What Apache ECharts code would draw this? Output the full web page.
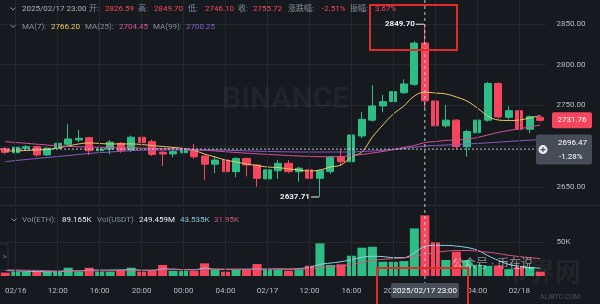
<!DOCTYPE html>
<html><head><meta charset="utf-8">
<script src="https://cdn.jsdelivr.net/npm/echarts@6/dist/echarts.min.js"></script>
<style>html,body{margin:0;padding:0;background:#161a1e}#c{width:600px;height:304px}</style>
</head><body><div id="c"></div>
<script>
const hours = [
'02/16 07:00','02/16 08:00','02/16 09:00','02/16 10:00','02/16 11:00','02/16 12:00','02/16 13:00','02/16 14:00','02/16 15:00','02/16 16:00','02/16 17:00','02/16 18:00','02/16 19:00','02/16 20:00','02/16 21:00','02/16 22:00','02/16 23:00',
'02/17 00:00','02/17 01:00','02/17 02:00','02/17 03:00','02/17 04:00','02/17 05:00','02/17 06:00','02/17 07:00','02/17 08:00','02/17 09:00','02/17 10:00','02/17 11:00','02/17 12:00','02/17 13:00','02/17 14:00','02/17 15:00','02/17 16:00','02/17 17:00','02/17 18:00','02/17 19:00','02/17 20:00','02/17 21:00','02/17 22:00','02/17 23:00',
'02/18 00:00','02/18 01:00','02/18 02:00','02/18 03:00','02/18 04:00','02/18 05:00','02/18 06:00','02/18 07:00','02/18 08:00','02/18 09:00','02/18 10:00'];
const xTickLabels = {'02/16 08:00':'02/16','02/16 12:00':'12:00','02/16 16:00':'16:00','02/16 20:00':'20:00','02/17 00:00':'00:00','02/17 04:00':'04:00','02/17 08:00':'02/17','02/17 12:00':'12:00','02/17 16:00':'16:00','02/17 20:00':'20:00','02/18 00:00':'00:00','02/18 04:00':'04:00','02/18 08:00':'02/18'};
const priceTicks = [2650, 2700, 2750, 2800, 2850];
const volumeTicks = [50];

const opens = [2697,2692,2697.5,2699.4,2689.3,2697.5,2702.4,2707.7,2710.5,2694.5,2696.5,2703.6,2695.5,2711,2705.6,2692.6,2690.5,2692,2696.3,2688,2678,2683,2668.8,2685,2677,2660,2670,2679,2668.8,2671,2660.7,2668.8,2686.4,2681,2712.6,2732,2749.4,2754.7,2765.7,2776,2826.59,2755.5,2725,2732,2699.4,2716.6,2732,2777,2735.5,2743.6,2720.8,2735.5];
const closes = [2692.5,2698.7,2699.4,2689.3,2697.5,2703.6,2708.9,2709.7,2694.5,2696.6,2705,2694.5,2711,2704.4,2690,2690.5,2693.4,2696.3,2687,2678,2683,2668.8,2685,2677,2660.7,2671,2679,2668.8,2673,2660.7,2670,2686.4,2681,2713.8,2733,2749.4,2754.7,2767,2776.4,2826.5,2755.72,2725,2732,2699.4,2718,2732,2777,2736,2743.6,2720.8,2736.3,2731.76];
const lows = [2690,2689.3,2696,2687,2688,2696.5,2700.5,2705,2689,2691,2690,2692,2693,2702,2688,2675.8,2686.5,2689.5,2684.5,2658.6,2667,2666,2662,2663,2650.4,2656,2660,2667,2656.5,2659,2637.71,2666,2676,2679,2710,2730,2741.7,2753,2764,2774,2746.1,2722,2723,2697,2687.2,2715,2730,2734,2733,2716,2716,2730];
const highs = [2699,2703.6,2701.5,2700.5,2699,2705.5,2727.3,2720,2711.5,2700.5,2707.5,2705,2713,2712,2708,2694.5,2695,2699,2702.8,2689,2688,2684.5,2686.5,2686,2678,2673,2683,2683,2675,2672,2671.5,2688,2695.4,2717,2742,2775,2763,2779,2782,2829,2849.7,2764,2750.6,2733,2720,2744,2779,2778,2749,2756.7,2738,2737.5];
const ma7 = [2694.2,2694.2,2694.8,2695.4,2696.0,2697.9,2700.3,2702.8,2704.0,2703.4,2702.8,2702.8,2702.8,2702.1,2700.9,2699.7,2698.5,2697.2,2694.8,2690.5,2686.8,2683.1,2680.7,2678.2,2676.4,2674.5,2673.9,2672.1,2670.9,2669.6,2670.9,2674.5,2677.0,2686.8,2692.9,2711.3,2726.1,2739.6,2749.4,2761.7,2766.2,2765.3,2764.1,2760.4,2755.5,2746.9,2737.1,2732.2,2731.6,2732.2,2734.7,2737.7];
const ma25 = [2705.6,2704.6,2703.6,2702.5,2701.5,2700.6,2699.8,2699.3,2699.0,2698.6,2698.3,2698.1,2697.9,2697.6,2697.4,2697.1,2696.9,2696.6,2696.0,2695.1,2694.2,2693.2,2692.3,2691.5,2690.7,2690.0,2689.3,2688.6,2688.0,2687.5,2687.2,2687.2,2687.4,2688.4,2689.9,2691.7,2693.6,2696.0,2698.5,2700.9,2704.45,2705.8,2707.1,2707.7,2708.5,2710.7,2713.8,2716.9,2719.3,2721.4,2723.6,2726.1];
const ma99 = [2681.0,2682.5,2683.7,2685.0,2686.2,2687.4,2688.6,2689.9,2691.1,2692.1,2692.9,2693.8,2694.5,2695.1,2695.4,2695.4,2695.4,2695.4,2695.4,2695.4,2695.4,2695.0,2694.7,2694.3,2693.9,2693.6,2693.3,2693.1,2692.9,2692.9,2692.9,2692.9,2692.9,2692.9,2693.6,2694.2,2695.0,2696.0,2697.2,2698.7,2700.25,2700.9,2701.5,2702.1,2702.8,2703.4,2704.2,2705.0,2705.8,2706.7,2707.4,2708.3];
const volumeK = [5,6.4,6.4,6.4,5.9,5.9,12.2,6.4,12.2,6.4,6.4,8.8,12.2,6.4,7.8,16.2,7.4,7.4,7.4,18.6,8.8,6.4,8.8,8.8,17.6,8.8,8.8,7.8,9.8,15.2,48,16.2,17.2,29.8,41.6,43,21,21,22,70,89.165,49.5,23.5,35.7,23.5,16.5,15,15.5,10,13.7,13,6.4];
const volMa5 = [8,7.5,7,6.5,6.3,6.2,7.5,7.5,8.6,8.6,8.7,9,9.2,8.5,8.3,10.2,10.1,9.4,9.3,11.5,10,9.8,10,10,10.1,10.1,10.5,10,11,12.5,17,19,21,24,27.5,29,28.5,27,27,34,43.535,45,45,44,42,38,30,23,17,14.5,12.5,11.5];
const volMa10 = [9,8.8,8.5,8.2,7.8,7.5,7.4,7.3,7.6,7.6,7.8,8,8.4,8.5,8.6,9,9.3,9.2,9,9.9,10,10,9.6,9.8,10,10,10,10.2,10.3,10.5,12.5,13.5,14.5,17,20,23,24.5,25.5,26.5,29,31.95,34.5,36.5,37.5,37.5,36.5,35,33,30.5,28.5,27,25.5];

const focusTime = '02/17 23:00';
const crossPrice = 2696.47;
const lastPrice = 2731.76;

const GREEN = '#2ebd85', RED = '#f6465d';
const FONT = 'Roboto, "Noto Sans CJK SC", sans-serif';
const gridLine = '#23272e';

const candleData = opens.map((o, i) => [o, closes[i], lows[i], highs[i]]);
const volData = volumeK.map((v, i) => ({value: v, itemStyle: {color: closes[i] >= opens[i] ? GREEN : RED}}));
const vGrid = Object.keys(xTickLabels).map(k => ({xAxis: k}));

const chart = echarts.init(document.getElementById('c'), null, {renderer: 'canvas'});
const option = {
  backgroundColor: '#161a1e',
  animation: false,
  grid: [
    {left: 0, right: 54.5, top: 0, height: 205},
    {left: 0, right: 54.5, top: 208, height: 68}
  ],
  xAxis: [
    {type: 'category', data: hours, gridIndex: 0, boundaryGap: true,
     axisLine: {show: false}, axisTick: {show: false}, axisLabel: {show: false}, splitLine: {show: false}},
    {type: 'category', data: hours, gridIndex: 1, boundaryGap: true,
     axisLine: {show: false}, axisTick: {show: false}, splitLine: {show: false},
     axisLabel: {show: true, interval: (i, v) => v in xTickLabels, formatter: v => xTickLabels[v] || '',
       color: '#b7bdc6', fontSize: 8, fontFamily: FONT, margin: 11}}
  ],
  yAxis: [
    {type: 'value', gridIndex: 0, position: 'right', min: 2627.9, max: 2879.4,
     axisLine: {show: false}, axisTick: {show: false, customValues: priceTicks},
     axisLabel: {customValues: priceTicks, formatter: v => v.toFixed(2), color: '#b7bdc6', fontSize: 8, fontFamily: FONT, margin: 11},
     splitLine: {show: true, lineStyle: {color: gridLine, width: 1}}},
    {type: 'value', gridIndex: 1, position: 'right', min: 0, max: 100,
     axisLine: {show: false}, axisTick: {show: false, customValues: volumeTicks},
     axisLabel: {customValues: volumeTicks, formatter: v => v + 'K', color: '#b7bdc6', fontSize: 8, fontFamily: FONT, margin: 11},
     splitLine: {show: true, lineStyle: {color: gridLine, width: 1}}}
  ],
  series: [
    {type: 'line', data: [], xAxisIndex: 0, yAxisIndex: 0, z: 1, silent: true,
     markLine: {silent: true, symbol: 'none', label: {show: false}, lineStyle: {color: gridLine, width: 1, type: 'solid'}, data: vGrid}},
    {type: 'line', data: [], xAxisIndex: 1, yAxisIndex: 1, z: 1, silent: true,
     markLine: {silent: true, symbol: 'none', label: {show: false}, lineStyle: {color: gridLine, width: 1, type: 'solid'}, data: vGrid}},
    {type: 'candlestick', xAxisIndex: 0, yAxisIndex: 0, data: candleData, barWidth: '72%',
     itemStyle: {color: GREEN, color0: RED, borderColor: GREEN, borderColor0: RED, borderWidth: 1}},
    {type: 'line', name: 'MA7', data: ma7, xAxisIndex: 0, yAxisIndex: 0, smooth: 0.4, symbol: 'none', lineStyle: {color: '#eec96a', width: 1}},
    {type: 'line', name: 'MA25', data: ma25, xAxisIndex: 0, yAxisIndex: 0, smooth: 0.4, symbol: 'none', lineStyle: {color: '#d9529a', width: 1}},
    {type: 'line', name: 'MA99', data: ma99, xAxisIndex: 0, yAxisIndex: 0, smooth: 0.4, symbol: 'none', lineStyle: {color: '#8a5cc8', width: 1}},
    {type: 'bar', data: volData, xAxisIndex: 1, yAxisIndex: 1, barWidth: '86%'},
    {type: 'line', data: volMa5, xAxisIndex: 1, yAxisIndex: 1, smooth: 0.4, symbol: 'none', lineStyle: {color: '#8fd3ea', width: 1}},
    {type: 'line', data: volMa10, xAxisIndex: 1, yAxisIndex: 1, smooth: 0.4, symbol: 'none', lineStyle: {color: '#d9587e', width: 1}}
  ]
};
chart.setOption(option);

function T(x, y, text, fill, extra) {
  return Object.assign({type: 'text', z: 100, silent: true,
    style: Object.assign({x: x, y: y, text: text, fill: fill, fontSize: 8, fontFamily: FONT, verticalAlign: 'middle', align: 'left'}, extra || {})});
}
function chevron(x, y) {
  return {type: 'polyline', z: 100, silent: true, shape: {points: [[x - 2.5, y - 1.5], [x, y + 1], [x + 2.5, y - 1.5]]}, style: {stroke: '#848e9c', lineWidth: 1, fill: null}};
}
const GRAY = '#848e9c';
const cx = chart.convertToPixel({xAxisIndex: 0}, focusTime);
const cy = chart.convertToPixel({yAxisIndex: 0}, crossPrice);
const ly = chart.convertToPixel({yAxisIndex: 0}, lastPrice);
const maxIdx = highs.indexOf(Math.max(...highs));
const minIdx = lows.indexOf(Math.min(...lows));
const maxX = chart.convertToPixel({xAxisIndex: 0}, hours[maxIdx]);
const maxY = chart.convertToPixel({yAxisIndex: 0}, highs[maxIdx]);
const minX = chart.convertToPixel({xAxisIndex: 0}, hours[minIdx]);
const minY = chart.convertToPixel({yAxisIndex: 0}, lows[minIdx]);

const g = [
  T(222, 100, 'BINANCE', 'rgba(255,255,255,0.045)', {fontSize: 30, fontWeight: 'bold', fontFamily: 'Roboto, sans-serif'}),
  chevron(13, 9),
  T(22, 9, '2025/02/17 23:00', '#aab0bb'),
  T(89, 9, '开:', GRAY), T(105, 9, '2826.59', RED),
  T(138, 9, '高:', GRAY), T(154, 9, '2849.70', RED),
  T(188, 9, '低:', GRAY), T(205, 9, '2746.10', RED),
  T(238, 9, '收:', GRAY), T(253, 9, '2755.72', RED),
  T(288, 9, '涨跌幅:', GRAY), T(322, 9, '-2.51%', RED),
  T(350, 9, '振幅:', GRAY), T(375, 9, '3.67%', RED),
  chevron(13, 26.5),
  T(22, 26.5, 'MA(7):', GRAY), T(51, 26.5, '2766.20', '#eec96a'),
  T(85, 26.5, 'MA(25):', GRAY), T(119, 26.5, '2704.45', '#d9529a'),
  T(153, 26.5, 'MA(99):', GRAY), T(186, 26.5, '2700.25', '#8a5cc8'),
  {type: 'line', z: 50, silent: true, shape: {x1: 0, y1: 205.5, x2: 600, y2: 205.5}, style: {stroke: '#262a31', lineWidth: 1}},
  chevron(14, 220),
  T(22, 220, 'Vol(ETH):', GRAY), T(62, 220, '89.165K', '#eaecef'),
  T(97, 220, 'Vol(USDT)', GRAY), T(139, 220, '249.459M', '#eaecef'),
  T(180, 220, '43.535K', '#7ec6da'), T(214, 220, '31.95K', '#c8587a'),
  {type: 'rect', z: 100, silent: true, shape: {x: -2, y: 244, width: 10, height: 26, r: 2}, style: {fill: '#161a1e', stroke: '#2b2f36', lineWidth: 1}},
  T(3, 257, '>', GRAY, {fontSize: 7}),
  T(maxX - 10, maxY, highs[maxIdx].toFixed(2), '#eaecef', {align: 'right', fontWeight: 'bold'}),
  {type: 'line', z: 100, silent: true, shape: {x1: maxX - 9, y1: maxY, x2: maxX - 1, y2: maxY}, style: {stroke: '#eaecef', lineWidth: 1}},
  T(minX - 10, minY, lows[minIdx].toFixed(2), '#eaecef', {align: 'right', fontWeight: 'bold'}),
  {type: 'line', z: 100, silent: true, shape: {x1: minX - 9, y1: minY, x2: minX - 1, y2: minY}, style: {stroke: '#eaecef', lineWidth: 1}},
  {type: 'line', z: 90, silent: true, shape: {x1: cx, y1: 0, x2: cx, y2: 283}, style: {stroke: 'rgba(220,224,230,0.85)', lineWidth: 1, lineDash: [3, 3]}},
  {type: 'line', z: 90, silent: true, shape: {x1: 0, y1: cy, x2: 536, y2: cy}, style: {stroke: 'rgba(220,224,230,0.85)', lineWidth: 1, lineDash: [2, 2]}},
  {type: 'rect', z: 100, silent: true, shape: {x: 552, y: ly - 8, width: 40, height: 16, r: 2}, style: {fill: RED}},
  T(572, ly, lastPrice.toFixed(2), '#ffffff', {align: 'center'}),
  {type: 'rect', z: 100, silent: true, shape: {x: 536, y: cy - 14.5, width: 56, height: 30, r: 2}, style: {fill: '#474d57'}},
  {type: 'circle', z: 101, silent: true, shape: {cx: 543, cy: cy + 0.5, r: 4.5}, style: {fill: '#eaecef'}},
  {type: 'line', z: 102, silent: true, shape: {x1: 540.5, y1: cy + 0.5, x2: 545.5, y2: cy + 0.5}, style: {stroke: '#474d57', lineWidth: 1.2}},
  {type: 'line', z: 102, silent: true, shape: {x1: 543, y1: cy - 2, x2: 543, y2: cy + 3}, style: {stroke: '#474d57', lineWidth: 1.2}},
  T(558, cy - 6.5, crossPrice.toFixed(2), '#ffffff'),
  T(559, cy + 7.5, '-1.28%', '#ffffff'),
  {type: 'rect', z: 100, silent: true, shape: {x: cx - 34, y: 283, width: 68, height: 15, r: 2}, style: {fill: '#474d57'}},
  T(cx, 290.5, '2025/02/17 23:00', '#ffffff', {align: 'center'}),
  T(503, 274, '币界网', 'rgba(255,255,255,0.05)', {fontSize: 26, fontWeight: 'bold'}),
  T(452, 265, '公众号 · 币在说', 'rgba(255,255,255,0.5)', {fontSize: 12}),
  T(540, 297, 'ALIBTC.COM', 'rgba(255,255,255,0.22)', {fontSize: 7}),
  {type: 'rect', z: 110, silent: true, shape: {x: 370, y: 5, width: 87, height: 45}, style: {fill: null, stroke: '#e02b2b', lineWidth: 2}},
  {type: 'rect', z: 110, silent: true, shape: {x: 377, y: 268, width: 91, height: 40}, style: {fill: null, stroke: '#e02b2b', lineWidth: 2}}
];
chart.setOption({graphic: g});
</script>
</body></html>
